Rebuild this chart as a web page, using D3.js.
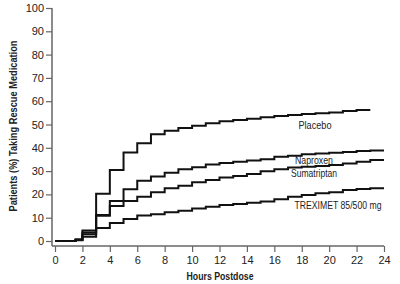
<!DOCTYPE html>
<html>
<head>
<meta charset="utf-8">
<script src="https://cdn.jsdelivr.net/npm/d3@7"></script>
<style>
  body { margin: 0; background: #fff; }
  svg { display: block; }
  text { font-family: "Liberation Sans Narrow", "Arial Narrow", "Liberation Sans", sans-serif; fill: #222; }
</style>
</head>
<body>
<svg width="400" height="284"></svg>
<script>
// step times (hours) at which each value starts
const stepHours = [0, 1.5, 2, 3, 4, 5, 6, 7, 8, 9, 10, 11, 12, 13, 14, 15, 16, 17, 18, 19, 20, 21, 22, 23]

const placebo = [0, 0.7, 4.5, 20.3, 30.5, 38, 42, 45.8, 47.3, 48.5, 49.5, 50.5, 51.4, 51.9, 52.5, 53.1, 53.6, 54.1, 54.5, 54.8, 55.2, 55.8, 56.2]
const naproxen = [0, 0.4, 3.6, 11.2, 17.2, 22.2, 25.9, 27.7, 29.3, 30.8, 31.7, 32.8, 33.5, 34.0, 34.6, 35.1, 36.2, 36.6, 37.2, 37.6, 37.9, 38.2, 38.6, 38.8]
const sumatriptan = [0, 0.4, 2.9, 10.8, 15, 17.2, 19.0, 20.9, 22.6, 23.7, 25.2, 26.2, 27.2, 27.9, 28.8, 29.9, 30.8, 31.5, 31.9, 32.2, 32.6, 33.3, 34.0, 34.8]
const treximet = [0, 0.3, 1.8, 5.6, 7.7, 9.4, 10.9, 11.5, 12.3, 13.0, 14.0, 14.7, 15.5, 15.9, 16.4, 16.9, 17.9, 19.0, 19.7, 20.5, 20.9, 21.9, 22.3, 22.6]

const seriesNames = ['Placebo', 'Naproxen', 'Sumatriptan', 'TREXIMET 85/500 mg']
const seriesEnds = [23, 24, 24, 24]
const xTicks = d3.range(0, 25, 2)
const yTicks = d3.range(0, 101, 10)

const svg = d3.select('svg')

/* SCALES */
const xScale = d3.scaleLinear().domain([0, 24]).range([55, 384])
const yScale = d3.scaleLinear().domain([0, 100]).range([241, 8])

const axisColor = '#666'

/* Y AXIS */
const yAxis = d3.axisLeft(yScale).tickValues(yTicks).tickSize(6).tickPadding(2)
const gy = svg.append('g').attr('transform', 'translate(52,0)').call(yAxis)
gy.select('.domain').remove()
gy.selectAll('.tick line').attr('stroke', axisColor).attr('stroke-width', 1.2)
gy.selectAll('.tick text').attr('font-size', 11).attr('fill', '#222')
svg.append('line')
  .attr('x1', 52).attr('x2', 52).attr('y1', yScale(100)).attr('y2', 246)
  .attr('stroke', axisColor).attr('stroke-width', 1.5)

/* X AXIS */
const xAxis = d3.axisBottom(xScale).tickValues(xTicks).tickSize(6).tickPadding(4)
const gx = svg.append('g').attr('transform', 'translate(0,246)').call(xAxis)
gx.select('.domain').remove()
gx.selectAll('.tick line').attr('stroke', axisColor).attr('stroke-width', 1.2)
gx.selectAll('.tick text').attr('font-size', 11).attr('fill', '#222')
svg.append('line')
  .attr('x1', 52).attr('x2', xScale(24)).attr('y1', 246).attr('y2', 246)
  .attr('stroke', axisColor).attr('stroke-width', 1.5)

/* AXIS TITLES (condensed via textLength) */
svg.append('text')
  .attr('x', 220).attr('y', 280)
  .attr('text-anchor', 'middle')
  .attr('font-size', 11).attr('font-weight', 'bold')
  .attr('textLength', 67).attr('lengthAdjust', 'spacingAndGlyphs')
  .text('Hours Postdose')

svg.append('text')
  .attr('transform', 'translate(17,126) rotate(-90)')
  .attr('text-anchor', 'middle')
  .attr('font-size', 11).attr('font-weight', 'bold')
  .attr('textLength', 171).attr('lengthAdjust', 'spacingAndGlyphs')
  .text('Patients (%) Taking Rescue Medication')

/* STEP LINES */
const line = d3.line()
  .x(d => xScale(d[0]))
  .y(d => yScale(d[1]))
  .curve(d3.curveStepAfter)

const allSeries = [placebo, naproxen, sumatriptan, treximet]
allSeries.forEach((vals, i) => {
  const pts = vals.map((v, j) => [stepHours[j], v])
  pts.push([seriesEnds[i], vals[vals.length - 1]])
  svg.append('path')
    .datum(pts)
    .attr('d', line)
    .attr('fill', 'none')
    .attr('stroke', '#111')
    .attr('stroke-width', 2)
})

/* SERIES LABELS */
const labelPos = [[315, 129], [314, 164], [314, 177], [338, 209]]
const labelWidths = [33, 38, 46, 87]
seriesNames.forEach((name, i) => {
  svg.append('text')
    .attr('x', labelPos[i][0]).attr('y', labelPos[i][1])
    .attr('text-anchor', 'middle')
    .attr('font-size', 10.5)
    .attr('textLength', labelWidths[i]).attr('lengthAdjust', 'spacingAndGlyphs')
    .text(name)
})
</script>
</body>
</html>
